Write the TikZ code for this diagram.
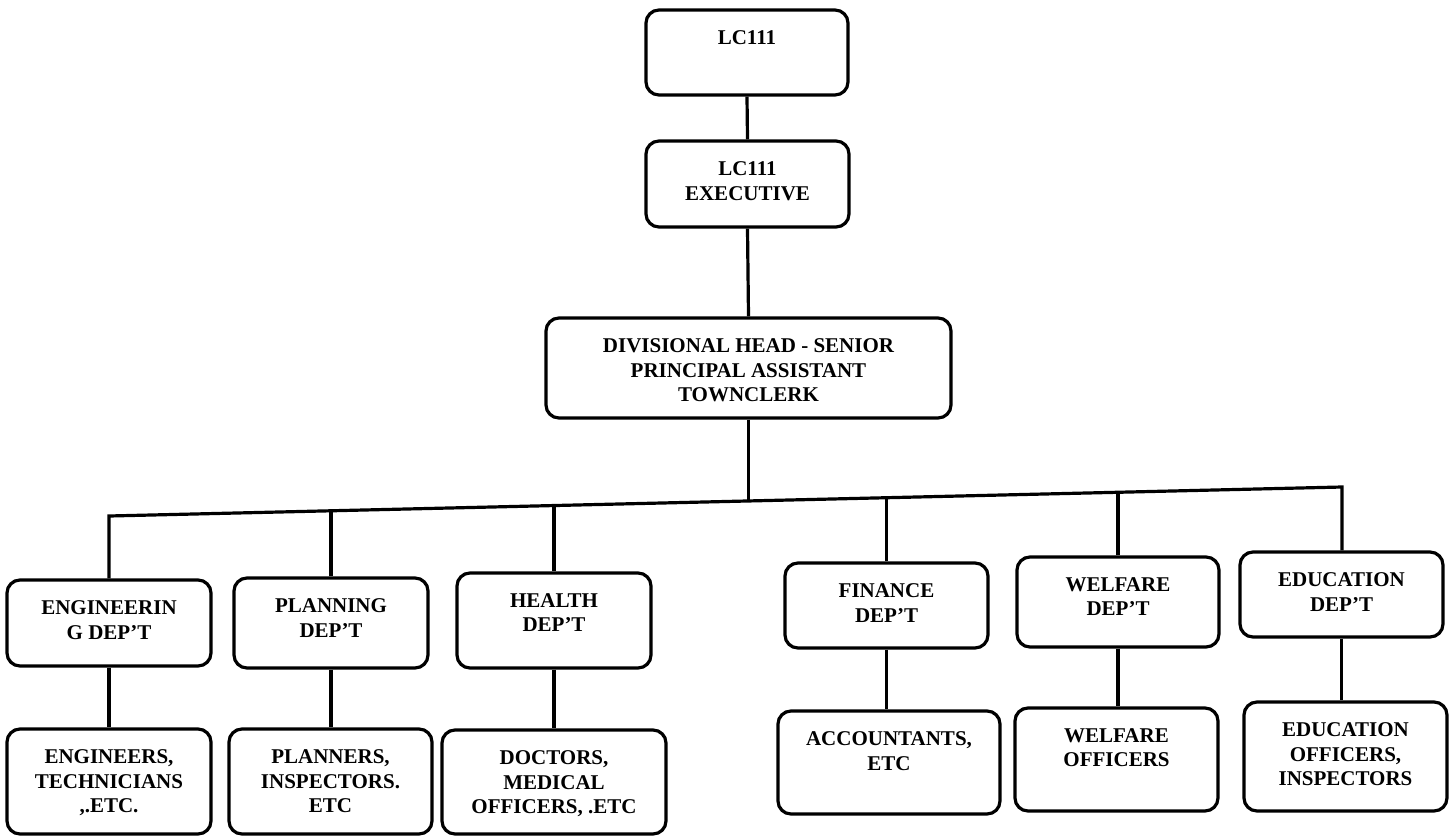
\documentclass[tikz,border=0pt]{standalone}
\usepackage{fontspec}
\setmainfont{Liberation Serif}
\usetikzlibrary{calc}
\tikzset{
  obox/.style={draw=black, line width=3.2pt, rounded corners=13pt, inner sep=0pt, fill=white},
  olbl/.style={anchor=north, inner sep=0pt, align=center, font=\fontsize{21}{24.5}\selectfont\bfseries},
  conn/.style={draw=black, line width=3.2pt},
}
\newcommand\orgbox[6]{%
  \node[obox, minimum width={#4-#2}, minimum height={#5-#3}] (#1) at ({(#2+#4)/2},{(#3+#5)/2}) {};
  \node[olbl] (#1-t) at ($(#1.north)+(0,22)$) {#6};}
\begin{document}
\begin{tikzpicture}[x=1pt,y=-1pt]
\useasboundingbox (0,0) rectangle (1452,836);
\orgbox{lc}{646}{10}{848}{95}{LC111}
\orgbox{exec}{646}{141}{849}{227}{LC111\\EXECUTIVE}
\orgbox{div}{546}{318}{951}{418}{DIVISIONAL HEAD - SENIOR\\PRINCIPAL ASSISTANT\\TOWNCLERK}
\orgbox{eng}{7}{580}{211}{666}{ENGINEERIN\\G DEP’T}
\orgbox{plan}{234}{578}{428}{668}{PLANNING\\DEP’T}
\orgbox{hlth}{457}{573}{651}{668}{HEALTH\\DEP’T}
\orgbox{fin}{785}{563}{988}{648}{FINANCE\\DEP’T}
\orgbox{welf}{1017}{557}{1219}{647}{WELFARE\\DEP’T}
\orgbox{edu}{1240}{552}{1443}{637}{EDUCATION\\DEP’T}
\orgbox{engs}{7}{729}{211}{834}{ENGINEERS,\\TECHNICIANS\\,.ETC.}
\orgbox{plns}{229}{729}{432}{834}{PLANNERS,\\INSPECTORS.\\ETC}
\orgbox{docs}{442}{730}{666}{834}{DOCTORS,\\MEDICAL\\OFFICERS, .ETC}
\orgbox{accs}{778}{711}{1000}{814}{ACCOUNTANTS,\\ETC}
\orgbox{wofs}{1015}{708}{1218}{811}{WELFARE\\OFFICERS}
\orgbox{eofs}{1244}{702}{1447}{811}{EDUCATION\\OFFICERS,\\INSPECTORS}
% bar coordinates
\coordinate (barL) at (110,516);
\coordinate (barR) at (1342,487);
\coordinate (bM) at (749,501);
\coordinate (bP) at (331,510.8);
\coordinate (bH) at (554,505.5);
\coordinate (bF) at (887,497.7);
\coordinate (bW) at (1118,492.3);
% connectors
\draw[conn] (lc.south) -- (exec.north);
\draw[conn] (exec.south) -- (div.north);
\draw[conn] (div.south) -- (div.south |- bM);
\draw[conn] (eng.north) -- (eng.north |- barL) -- (barR) -- (edu.north -| barR);
\draw[conn] (plan.north) -- (plan.north |- bP);
\draw[conn] (hlth.north) -- (hlth.north |- bH);
\draw[conn] (fin.north) -- (fin.north |- bF);
\draw[conn] (welf.north) -- (welf.north |- bW);
\draw[conn] (eng.south) -- (eng.south |- engs.north);
\draw[conn] (plan.south) -- (plan.south |- plns.north);
\draw[conn] (hlth.south) -- (hlth.south |- docs.north);
\draw[conn] (fin.south) -- (fin.south |- accs.north);
\draw[conn] (welf.south) -- (welf.south |- wofs.north);
\draw[conn] (edu.south) -- (edu.south |- eofs.north);
\end{tikzpicture}
\end{document}
